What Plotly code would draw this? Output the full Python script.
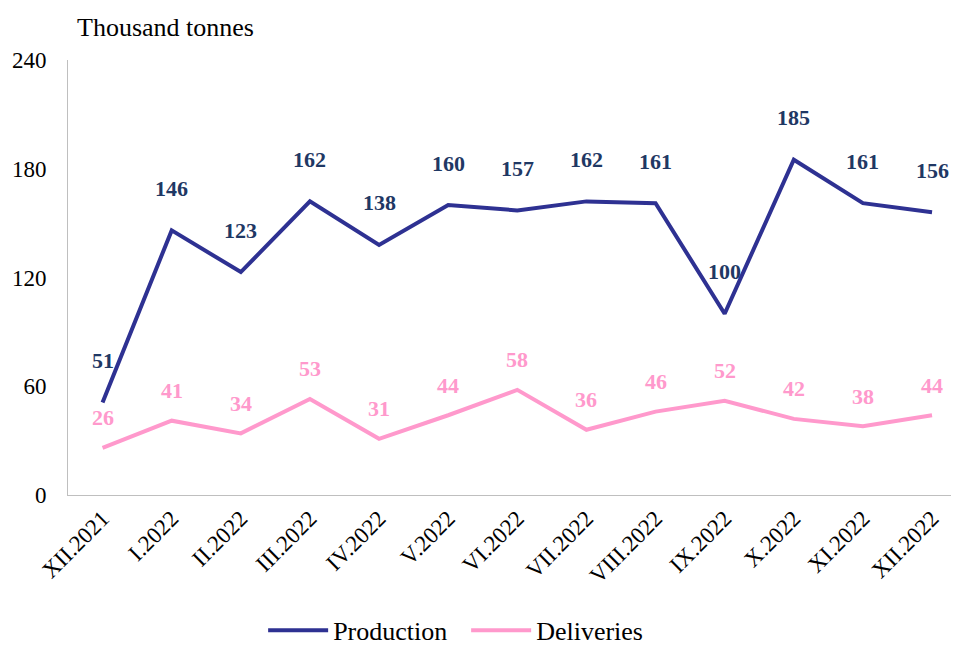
import plotly.graph_objects as go

categories = ["XII.2021", "I.2022", "II.2022", "III.2022", "IV.2022", "V.2022", "VI.2022",
              "VII.2022", "VIII.2022", "IX.2022", "X.2022", "XI.2022", "XII.2022"]
production = [51, 146, 123, 162, 138, 160, 157, 162, 161, 100, 185, 161, 156]
deliveries = [26, 41, 34, 53, 31, 44, 58, 36, 46, 52, 42, 38, 44]
y_ticks = [0, 60, 120, 180, 240]

PROD_COLOR = "#2E3192"
PROD_LABEL = "#1F3864"
DEL_COLOR = "#FF99CC"
FONT = "Liberation Serif, Times New Roman, serif"

fig = go.Figure()
fig.add_trace(go.Scatter(x=list(range(len(categories))), y=production, mode="lines",
                         name="Production", line=dict(color=PROD_COLOR, width=4)))
fig.add_trace(go.Scatter(x=list(range(len(categories))), y=deliveries, mode="lines",
                         name="Deliveries", line=dict(color=DEL_COLOR, width=4)))

annotations = []
for i, v in enumerate(production):
    annotations.append(dict(x=i, y=v, text=f"<b>{v}</b>", showarrow=False, yshift=42,
                            font=dict(family=FONT, size=22, color=PROD_LABEL)))
for i, v in enumerate(deliveries):
    annotations.append(dict(x=i, y=v, text=f"<b>{v}</b>", showarrow=False, yshift=30,
                            font=dict(family=FONT, size=22, color=DEL_COLOR)))
annotations.append(dict(xref="paper", yref="paper", x=7 / 891, y=1.0, yshift=33,
                        xanchor="left", yanchor="middle", showarrow=False,
                        text="Thousand tonnes",
                        font=dict(family=FONT, size=26, color="#000000")))

# page body adds an 8px offset; the figure is sized so the plot lands where the reference's does
fig.update_layout(
    width=951, height=643,
    margin=dict(l=60, r=0, t=52, b=156, autoexpand=False),
    plot_bgcolor="white", paper_bgcolor="white",
    font=dict(family=FONT, size=23, color="#000000"),
    showlegend=True,
    legend=dict(orientation="h", x=0.219, xanchor="left", y=-0.365, yanchor="bottom",
                font=dict(family=FONT, size=26), itemwidth=60,
                entrywidth=128, entrywidthmode="pixels"),
    annotations=annotations,
    xaxis=dict(tickmode="array", tickvals=list(range(len(categories))), ticktext=categories,
               range=[-0.5, 12.39], tickangle=-45, showline=True, linecolor="#BFBFBF",
               linewidth=1, showgrid=False, zeroline=False, ticks="", automargin=False,
               tickfont=dict(family=FONT, size=23)),
    yaxis=dict(range=[0, 240], tickvals=y_ticks, showline=True, linecolor="#BFBFBF",
               linewidth=1, showgrid=False, zeroline=False, ticks="", automargin=False,
               tickfont=dict(family=FONT, size=23), ticklabelstandoff=16),
)

fig.write_html("out.html")
